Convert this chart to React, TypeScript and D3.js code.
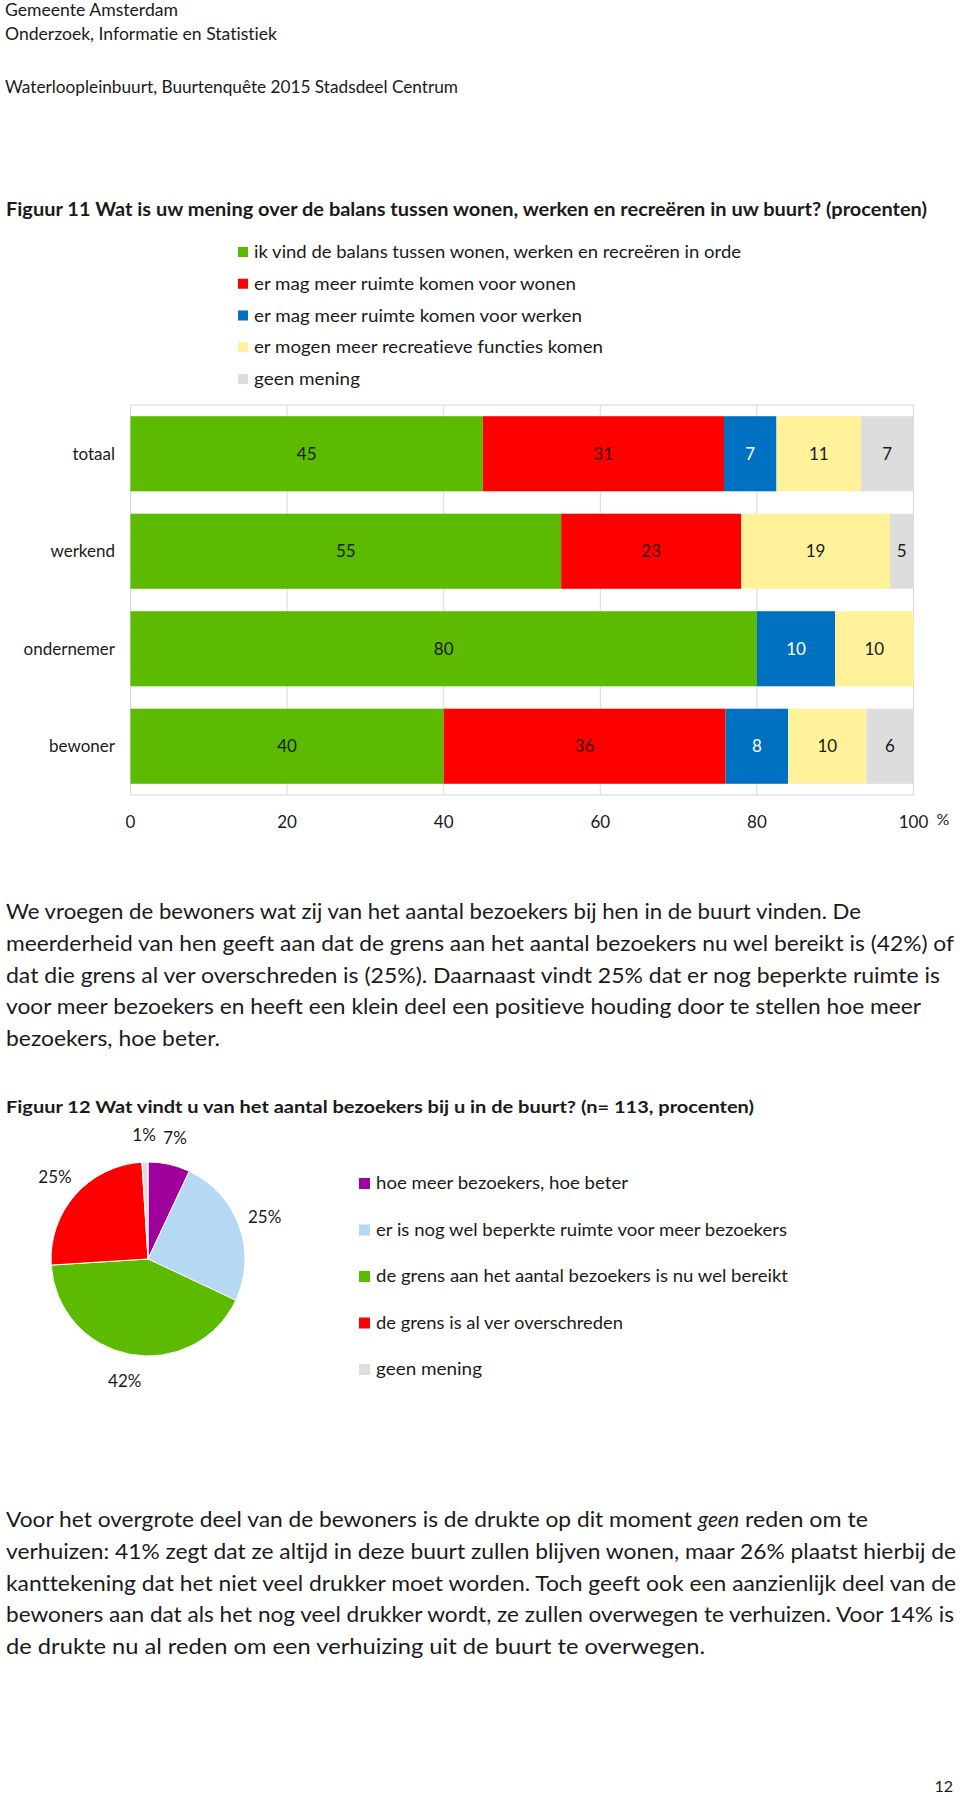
import React from "react";
import * as d3 from "d3";

// ---------- data ----------
const categories = ["totaal", "werkend", "ondernemer", "bewoner"];
const balansSeries = [
  "ik vind de balans tussen wonen, werken en recreëren in orde",
  "er mag meer ruimte komen voor wonen",
  "er mag meer ruimte komen voor werken",
  "er mogen meer recreatieve functies komen",
  "geen mening",
];
const inOrde = [45, 55, 80, 40];
const meerWonen = [30.8, 23, 0, 36];
const meerWerken = [6.7, 0, 10, 8];
const meerRecreatie = [10.8, 19, 10, 10];
const geenMening = [6.7, 5, 0, 6];
const balansColors = ["#5cbb00", "#ff0000", "#0070c0", "#fff29b", "#dddddd"];
const balansLabelColors = ["#1a1a1a", "#3d0000", "#ffffff", "#1a1a1a", "#1a1a1a"];
const xTicks = [0, 20, 40, 60, 80, 100];

const bezoekersLabels = [
  "hoe meer bezoekers, hoe beter",
  "er is nog wel beperkte ruimte voor meer bezoekers",
  "de grens aan het aantal bezoekers is nu wel bereikt",
  "de grens is al ver overschreden",
  "geen mening",
];
const bezoekersValues = [7, 25, 42, 25, 1];
const bezoekersColors = ["#a0009c", "#b5d8f3", "#5cbb00", "#ff0000", "#dddddd"];

// ---------- text ----------
const headerLines = [
  { t: "Gemeente Amsterdam", y: 16, w: 173 },
  { t: "Onderzoek, Informatie en Statistiek", y: 40, w: 272 },
  { t: "Waterloopleinbuurt, Buurtenquête 2015 Stadsdeel Centrum", y: 93, w: 453 },
];
const para1 = [
  { t: "We vroegen de bewoners wat zij van het aantal bezoekers bij hen in de buurt vinden. De", w: 855 },
  { t: "meerderheid van hen geeft aan dat de grens aan het aantal bezoekers nu wel bereikt is (42%) of", w: 948 },
  { t: "dat die grens al ver overschreden is (25%). Daarnaast vindt 25% dat er nog beperkte ruimte is", w: 934 },
  { t: "voor meer bezoekers en heeft een klein deel een positieve houding door te stellen hoe meer", w: 915 },
  { t: "bezoekers, hoe beter.", w: 214 },
];
const para2First = [
  { t: "Voor het overgrote deel van de bewoners is de drukte op dit moment", x: 6, w: 686, italic: false },
  { t: "geen", x: 698, w: 41, italic: true },
  { t: "reden om te", x: 745, w: 123, italic: false },
];
const para2 = [
  { t: "verhuizen: 41% zegt dat ze altijd in deze buurt zullen blijven wonen, maar 26% plaatst hierbij de", w: 950 },
  { t: "kanttekening dat het niet veel drukker moet worden. Toch geeft ook een aanzienlijk deel van de", w: 950 },
  { t: "bewoners aan dat als het nog veel drukker wordt, ze zullen overwegen te verhuizen. Voor 14% is", w: 948 },
  { t: "de drukte nu al reden om een verhuizing uit de buurt te overwegen.", w: 699 },
];

const FONT = "Lato, 'Open Sans', sans-serif";
const INK = "#1a1a1a";

export default function App() {
  // bar chart scales
  const x = d3.scaleLinear().domain([0, 100]).range([130.5, 913.5]);
  const y = d3
    .scaleBand<string>()
    .domain(categories)
    .range([405, 795])
    .paddingInner(0.23)
    .paddingOuter(0.115);

  const keys = ["s0", "s1", "s2", "s3", "s4"];
  const rows = categories.map((c, i) => ({
    cat: c,
    s0: inOrde[i],
    s1: meerWonen[i],
    s2: meerWerken[i],
    s3: meerRecreatie[i],
    s4: geenMening[i],
  }));
  const stacked = d3.stack<any>().keys(keys)(rows);

  // pie
  const cx = 148;
  const cy = 1259;
  const R = 97;
  const pie = d3.pie<number>().sort(null).startAngle(0).endAngle(2 * Math.PI);
  const arcs = pie(bezoekersValues);
  const arc = d3.arc<d3.PieArcDatum<number>>().innerRadius(0).outerRadius(R);
  const labelArc = d3.arc<d3.PieArcDatum<number>>().innerRadius(124).outerRadius(124);

  const legend1Y = d3.scaleLinear().domain([0, 4]).range([252, 379]);
  const legend2Y = d3.scaleLinear().domain([0, 4]).range([1183, 1369]);
  const legend1W = [487, 322, 328, 349, 106];
  const legend2W = [252, 411, 412, 247, 106];

  return (
    <svg
      width={960}
      height={1796}
      viewBox="0 0 960 1796"
      style={{ position: "absolute", left: 0, top: 0, background: "#fff", fontVariantLigatures: "none" }}
      fontFamily={FONT}
    >
      <rect x={0} y={0} width={960} height={1796} fill="#fff" />

      {/* header */}
      {headerLines.map((h) => (
        <text key={h.t} x={5} y={h.y} fontSize={17} fill={INK} textLength={h.w} lengthAdjust="spacingAndGlyphs">
          {h.t}
        </text>
      ))}

      {/* Figure 11 title */}
      <text x={6} y={216} fontSize={18} fontWeight={700} fill={INK} textLength={921} lengthAdjust="spacingAndGlyphs">
        Figuur 11 Wat is uw mening over de balans tussen wonen, werken en recreëren in uw buurt? (procenten)
      </text>

      {/* legend 1 */}
      {balansSeries.map((s, i) => (
        <g key={s}>
          <rect x={238} y={legend1Y(i) - 5} width={10} height={10} fill={balansColors[i]} />
          <text x={254} y={legend1Y(i) + 6} fontSize={17} fill={INK} textLength={legend1W[i]} lengthAdjust="spacingAndGlyphs">
            {s}
          </text>
        </g>
      ))}

      {/* plot area border and grid */}
      <rect x={x(0)} y={405} width={x(100) - x(0)} height={390} fill="none" stroke="#d9d9d9" strokeWidth={1} />
      {xTicks.map((t) => (
        <line key={t} x1={x(t)} x2={x(t)} y1={405} y2={795} stroke="#d9d9d9" strokeWidth={1} />
      ))}

      {/* bars */}
      {stacked.map((layer, si) => (
        <g key={layer.key} fill={balansColors[si]}>
          {layer.map((d, ci) => {
            const v = d[1] - d[0];
            if (v <= 0) return null;
            const x0 = x(Math.min(d[0], 100));
            const x1 = x(Math.min(d[1], 100));
            return (
              <rect key={ci} x={x0} y={y(categories[ci])!} width={Math.max(0, x1 - x0)} height={y.bandwidth()} />
            );
          })}
        </g>
      ))}

      {/* segment labels */}
      {stacked.map((layer, si) => (
        <g key={"l" + layer.key}>
          {layer.map((d, ci) => {
            const v = d[1] - d[0];
            if (v <= 0) return null;
            const x0 = x(Math.min(d[0], 100));
            const x1 = x(Math.min(d[1], 100));
            return (
              <text
                key={ci}
                x={(x0 + x1) / 2}
                y={y(categories[ci])! + y.bandwidth() / 2 + 6}
                textAnchor="middle"
                fontSize={17}
                fill={balansLabelColors[si]}
              >
                {Math.round(v)}
              </text>
            );
          })}
        </g>
      ))}

      {/* category labels */}
      {categories.map((c) => (
        <text key={c} x={115} y={y(c)! + y.bandwidth() / 2 + 6} textAnchor="end" fontSize={17} fill={INK}>
          {c}
        </text>
      ))}

      {/* x ticks */}
      {xTicks.map((t) => (
        <text key={t} x={x(t)} y={828} textAnchor="middle" fontSize={17} fill={INK}>
          {t}
        </text>
      ))}
      <text x={943} y={825} textAnchor="middle" fontSize={16} fill={INK}>
        %
      </text>

      {/* paragraph 1 */}
      {para1.map((l, i) => (
        <text key={i} x={6} y={919 + i * 31.75} fontSize={21} fill={INK} textLength={l.w} lengthAdjust="spacingAndGlyphs">
          {l.t}
        </text>
      ))}

      {/* Figure 12 title */}
      <text x={6} y={1113} fontSize={17} fontWeight={700} fill={INK} textLength={748} lengthAdjust="spacingAndGlyphs">
        Figuur 12 Wat vindt u van het aantal bezoekers bij u in de buurt? (n= 113, procenten)
      </text>

      {/* pie */}
      <g transform={`translate(${cx},${cy})`}>
        {arcs.map((a, i) => (
          <path key={i} d={arc(a)!} fill={bezoekersColors[i]} stroke="#fff" strokeWidth={1} />
        ))}
        {arcs.map((a, i) => {
          const [lx, ly] = labelArc.centroid(a);
          return (
            <text key={"t" + i} x={lx} y={ly + 6} textAnchor="middle" fontSize={17} fill={INK}>
              {bezoekersValues[i]}%
            </text>
          );
        })}
      </g>

      {/* legend 2 */}
      {bezoekersLabels.map((s, i) => (
        <g key={s}>
          <rect x={359} y={legend2Y(i) - 5} width={11} height={11} fill={bezoekersColors[i]} />
          <text x={376} y={legend2Y(i) + 6} fontSize={18} fill={INK} textLength={legend2W[i]} lengthAdjust="spacingAndGlyphs">
            {s}
          </text>
        </g>
      ))}

      {/* paragraph 2 */}
      {para2First.map((p) => (
        <text
          key={p.t}
          x={p.x}
          y={1527}
          fontSize={21}
          fontStyle={p.italic ? "italic" : "normal"}
          fill={INK}
          textLength={p.w}
          lengthAdjust="spacingAndGlyphs"
        >
          {p.t}
        </text>
      ))}
      {para2.map((l, i) => (
        <text key={i} x={6} y={1527 + (i + 1) * 31.75} fontSize={21} fill={INK} textLength={l.w} lengthAdjust="spacingAndGlyphs">
          {l.t}
        </text>
      ))}

      {/* page number */}
      <text x={953} y={1792} textAnchor="end" fontSize={16} fill={INK}>
        12
      </text>
    </svg>
  );
}
